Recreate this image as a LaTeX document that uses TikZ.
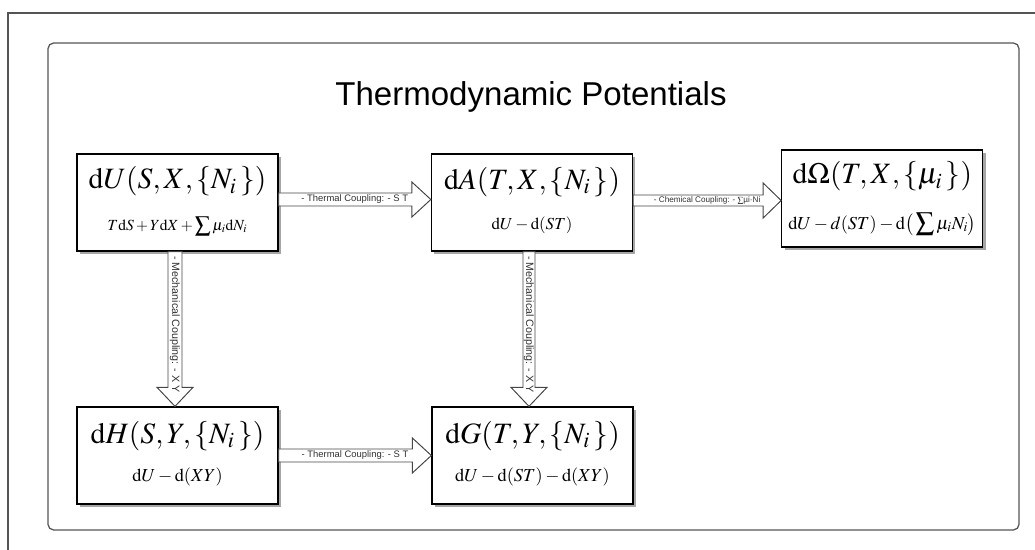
\documentclass[tikz,border=0pt]{standalone}
\usepackage{mathptmx}
\usepackage[no-math]{fontspec}
\setmainfont{Liberation Serif}
\setsansfont{Liberation Sans}
\usetikzlibrary{calc,shadows}
\definecolor{cFrame}{RGB}{85,85,85}
\definecolor{cArrow}{RGB}{70,70,70}
\definecolor{cLabel}{RGB}{50,50,50}

\begin{document}
\begin{tikzpicture}[x=0.025cm, y=-0.025cm,
  potbox/.style={draw=black, fill=white, line width=0.9pt,
    minimum width=5.025cm, minimum height=2.425cm, inner sep=0pt,
    drop shadow={shadow xshift=2pt, shadow yshift=-2pt, fill=black!35, opacity=1}},
  pottitle/.style={font=\fontsize{21}{24}\selectfont, inner sep=0pt},
  potsub/.style={font=\fontsize{13}{15}\selectfont, inner sep=0pt},
  blockarrow/.style={draw=cArrow, fill=white, line width=0.7pt, line join=miter},
  couplabel/.style={text=cLabel, font=\sffamily\fontsize{6.7}{7}\selectfont, inner sep=0pt}]

  % ---- page size (1 unit = 1px of 1035x550) ----
  \useasboundingbox (0,0) rectangle (1035,550);

  % ---- frames ----
  \draw[cFrame, line width=0.9pt] (8,550) -- (8,13) -- (1035,13);
  \draw[cFrame, line width=0.9pt, rounded corners=4pt] (48,43) rectangle (1019,530);

  % ---- title ----
  \node[font=\sffamily\fontsize{23.5}{27}\selectfont, anchor=base] (title) at (531,106) {Thermodynamic Potentials};

  % ---- potential boxes (201 x 97) ----
  \node[potbox] (U) at (177.5,202.5) {};
  \node[pottitle] (Ut) at ($(U.center)+(0,-21)$) {$\mathrm{d}U(S,X,\{N_i\,\})$};
  \node[potsub, font=\fontsize{11}{13}\selectfont] (Us) at ($(U.center)+(0,24)$)
    {$T\mathrm{d}S+Y\mathrm{d}X+\displaystyle\sum\mu_i\mathrm{d}N_i$};

  \node[potbox] (A) at (532,202.5) {};
  \node[pottitle] (At) at ($(A.center)+(0,-20.5)$) {$\mathrm{d}A(T,X,\{N_i\,\})$};
  \node[potsub, font=\fontsize{12}{14}\selectfont] (As) at ($(A.center)+(0,22.5)$) {$\mathrm{d}U-\mathrm{d}(ST)$};

  \node[potbox] (Om) at (882.3,198.5) {};
  \node[pottitle] (Omt) at ($(Om.center)+(0,-22)$) {$\mathrm{d}\Omega(T,X,\{\mu_i\,\})$};
  \node[potsub] (Oms) at ($(Om.center)+(0,26)$)
    {$\mathrm{d}U-d(ST)-\mathrm{d}\!\left(\,\displaystyle\sum\mu_iN_i\right)$};

  \node[potbox] (H) at (177.5,455.5) {};
  \node[pottitle] (Ht) at ($(H.center)+(0,-19.5)$) {$\mathrm{d}H(S,Y,\{N_i\,\})$};
  \node[potsub] (Hs) at ($(H.center)+(0,21.5)$) {$\mathrm{d}U-\mathrm{d}(XY)$};

  \node[potbox] (G) at (532.5,455.5) {};
  \node[pottitle] (Gt) at ($(G.center)+(0,-19.5)$) {$\mathrm{d}G(T,Y,\{N_i\,\})$};
  \node[potsub] (Gs) at ($(G.center)+(0,21.5)$) {$\mathrm{d}U-\mathrm{d}(ST)-\mathrm{d}(XY)$};

  % ---- horizontal couplings (shaft 13, head 35 x 19) ----
  % U -> A
  \coordinate (uaS) at ($(U.east)+(0,-3)$);
  \coordinate (uaT) at ($(A.west)+(0,-3)$);
  \draw[blockarrow] ($(uaS)+(0,-6.5)$) -- ($(uaT)+(-19,-6.5)$) -- ($(uaT)+(-19,-17.5)$)
    -- (uaT) -- ($(uaT)+(-19,17.5)$) -- ($(uaT)+(-19,6.5)$) -- ($(uaS)+(0,6.5)$) -- cycle;
  \node[couplabel] (uaL) at ($(uaS)!0.5!(uaT)$) {- Thermal Coupling: - S T};

  % A -> Omega
  \coordinate (aoS) at ($(A.east)+(0,-2)$);
  \coordinate (aoT) at ($(Om.west)+(0,2)$);
  \draw[blockarrow] ($(aoS)+(0,-5.5)$) -- ($(aoT)+(-18,-5.5)$) -- ($(aoT)+(-18,-17.5)$)
    -- (aoT) -- ($(aoT)+(-18,17.5)$) -- ($(aoT)+(-18,5.5)$) -- ($(aoS)+(0,5.5)$) -- cycle;
  \node[couplabel, font=\sffamily\fontsize{5.8}{6}\selectfont] (aoL) at ($(aoS)!0.5!(aoT)$)
    {- Chemical Coupling: - $\sum$µi·Ni};

  % H -> G
  \coordinate (hgS) at (H.east);
  \coordinate (hgT) at (G.west);
  \draw[blockarrow] ($(hgS)+(0,-6.5)$) -- ($(hgT)+(-19,-6.5)$) -- ($(hgT)+(-19,-17.5)$)
    -- (hgT) -- ($(hgT)+(-19,17.5)$) -- ($(hgT)+(-19,6.5)$) -- ($(hgS)+(0,6.5)$) -- cycle;
  \node[couplabel] (hgL) at ($(hgS)!0.5!(hgT)$) {- Thermal Coupling: - S T};

  % ---- vertical couplings (shaft 14, head 36 x 19) ----
  % U -> H
  \coordinate (uhS) at ($(U.south)+(-2.5,0)$);
  \coordinate (uhT) at ($(H.north)+(-2.5,0)$);
  \draw[blockarrow] ($(uhS)+(-7,0)$) -- ($(uhT)+(-7,-19)$) -- ($(uhT)+(-18,-19)$)
    -- (uhT) -- ($(uhT)+(18,-19)$) -- ($(uhT)+(7,-19)$) -- ($(uhS)+(7,0)$) -- cycle;
  \node[couplabel, rotate=-90, font=\sffamily\fontsize{7.6}{8}\selectfont] (uhL)
    at ($(uhS)!0.47!(uhT)$) {- Mechanical Coupling: - X Y};

  % A -> G
  \coordinate (agS) at ($(A.south)+(-3,0)$);
  \coordinate (agT) at ($(G.north)+(-3.5,0)$);
  \draw[blockarrow] ($(agS)+(-6,0)$) -- ($(agT)+(-6,-19)$) -- ($(agT)+(-18,-19)$)
    -- (agT) -- ($(agT)+(18,-19)$) -- ($(agT)+(6,-19)$) -- ($(agS)+(6,0)$) -- cycle;
  \node[couplabel, rotate=-90, font=\sffamily\fontsize{7.6}{8}\selectfont] (agL)
    at ($(agS)!0.47!(agT)$) {- Mechanical Coupling: - X Y};

\end{tikzpicture}
\end{document}
